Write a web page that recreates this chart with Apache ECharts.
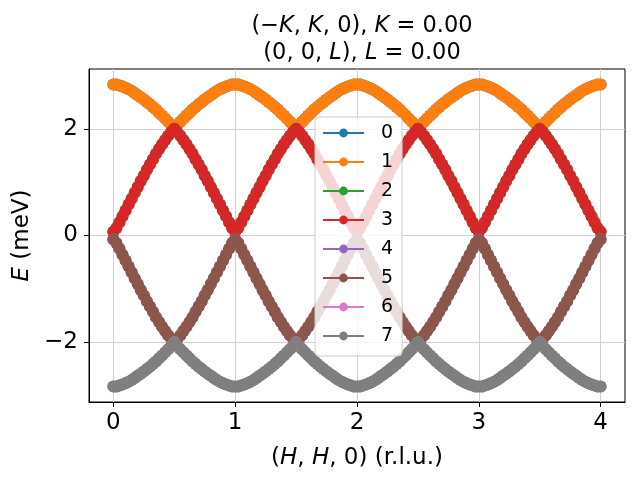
<!DOCTYPE html>
<html>
<head>
<meta charset="utf-8">
<script src="https://cdn.jsdelivr.net/npm/echarts@6/dist/echarts.min.js"></script>
<style>
  html, body { margin: 0; padding: 0; background: #fff; }
  #chart { width: 640px; height: 480px; }
</style>
</head>
<body>
<div id="chart"></div>
<script>
// H along (H, H, 0), one row per unit of H
var hVals = [
  0, 0.025, 0.05, 0.075, 0.1, 0.125, 0.15, 0.175, 0.2, 0.225, 0.25, 0.275, 0.3, 0.325, 0.35, 0.375, 0.4, 0.425, 0.45, 0.475, 0.5, 0.525, 0.55, 0.575, 0.6, 0.625, 0.65, 0.675, 0.7, 0.725, 0.75, 0.775, 0.8, 0.825, 0.85, 0.875, 0.9, 0.925, 0.95, 0.975, 1,
  1.025, 1.05, 1.075, 1.1, 1.125, 1.15, 1.175, 1.2, 1.225, 1.25, 1.275, 1.3, 1.325, 1.35, 1.375, 1.4, 1.425, 1.45, 1.475, 1.5, 1.525, 1.55, 1.575, 1.6, 1.625, 1.65, 1.675, 1.7, 1.725, 1.75, 1.775, 1.8, 1.825, 1.85, 1.875, 1.9, 1.925, 1.95, 1.975, 2,
  2.025, 2.05, 2.075, 2.1, 2.125, 2.15, 2.175, 2.2, 2.225, 2.25, 2.275, 2.3, 2.325, 2.35, 2.375, 2.4, 2.425, 2.45, 2.475, 2.5, 2.525, 2.55, 2.575, 2.6, 2.625, 2.65, 2.675, 2.7, 2.725, 2.75, 2.775, 2.8, 2.825, 2.85, 2.875, 2.9, 2.925, 2.95, 2.975, 3,
  3.025, 3.05, 3.075, 3.1, 3.125, 3.15, 3.175, 3.2, 3.225, 3.25, 3.275, 3.3, 3.325, 3.35, 3.375, 3.4, 3.425, 3.45, 3.475, 3.5, 3.525, 3.55, 3.575, 3.6, 3.625, 3.65, 3.675, 3.7, 3.725, 3.75, 3.775, 3.8, 3.825, 3.85, 3.875, 3.9, 3.925, 3.95, 3.975, 4
];

// upper band (modes 0, 1)
var eUpper = [
  2.83, 2.83, 2.81, 2.79, 2.77, 2.74, 2.71, 2.67, 2.63, 2.59, 2.55, 2.50, 2.46, 2.41, 2.36, 2.30, 2.25, 2.19, 2.13, 2.07, 2.00, 2.07, 2.13, 2.19, 2.25, 2.30, 2.36, 2.41, 2.46, 2.50, 2.55, 2.59, 2.63, 2.67, 2.71, 2.74, 2.77, 2.79, 2.81, 2.83, 2.83,
  2.83, 2.81, 2.79, 2.77, 2.74, 2.71, 2.67, 2.63, 2.59, 2.55, 2.50, 2.46, 2.41, 2.36, 2.30, 2.25, 2.19, 2.13, 2.07, 2.00, 2.07, 2.13, 2.19, 2.25, 2.30, 2.36, 2.41, 2.46, 2.50, 2.55, 2.59, 2.63, 2.67, 2.71, 2.74, 2.77, 2.79, 2.81, 2.83, 2.83,
  2.83, 2.81, 2.79, 2.77, 2.74, 2.71, 2.67, 2.63, 2.59, 2.55, 2.50, 2.46, 2.41, 2.36, 2.30, 2.25, 2.19, 2.13, 2.07, 2.00, 2.07, 2.13, 2.19, 2.25, 2.30, 2.36, 2.41, 2.46, 2.50, 2.55, 2.59, 2.63, 2.67, 2.71, 2.74, 2.77, 2.79, 2.81, 2.83, 2.83,
  2.83, 2.81, 2.79, 2.77, 2.74, 2.71, 2.67, 2.63, 2.59, 2.55, 2.50, 2.46, 2.41, 2.36, 2.30, 2.25, 2.19, 2.13, 2.07, 2.00, 2.07, 2.13, 2.19, 2.25, 2.30, 2.36, 2.41, 2.46, 2.50, 2.55, 2.59, 2.63, 2.67, 2.71, 2.74, 2.77, 2.79, 2.81, 2.83, 2.83
];

// inner positive band (modes 2, 3)
var eInner = [
  0.07, 0.14, 0.25, 0.36, 0.47, 0.58, 0.69, 0.80, 0.91, 1.02, 1.12, 1.23, 1.33, 1.43, 1.53, 1.62, 1.71, 1.79, 1.87, 1.94, 2.00, 1.94, 1.87, 1.79, 1.71, 1.62, 1.53, 1.43, 1.33, 1.23, 1.12, 1.02, 0.91, 0.80, 0.69, 0.58, 0.47, 0.36, 0.25, 0.14, 0.07,
  0.14, 0.25, 0.36, 0.47, 0.58, 0.69, 0.80, 0.91, 1.02, 1.12, 1.23, 1.33, 1.43, 1.53, 1.62, 1.71, 1.79, 1.87, 1.94, 2.00, 1.94, 1.87, 1.79, 1.71, 1.62, 1.53, 1.43, 1.33, 1.23, 1.12, 1.02, 0.91, 0.80, 0.69, 0.58, 0.47, 0.36, 0.25, 0.14, 0.07,
  0.14, 0.25, 0.36, 0.47, 0.58, 0.69, 0.80, 0.91, 1.02, 1.12, 1.23, 1.33, 1.43, 1.53, 1.62, 1.71, 1.79, 1.87, 1.94, 2.00, 1.94, 1.87, 1.79, 1.71, 1.62, 1.53, 1.43, 1.33, 1.23, 1.12, 1.02, 0.91, 0.80, 0.69, 0.58, 0.47, 0.36, 0.25, 0.14, 0.07,
  0.14, 0.25, 0.36, 0.47, 0.58, 0.69, 0.80, 0.91, 1.02, 1.12, 1.23, 1.33, 1.43, 1.53, 1.62, 1.71, 1.79, 1.87, 1.94, 2.00, 1.94, 1.87, 1.79, 1.71, 1.62, 1.53, 1.43, 1.33, 1.23, 1.12, 1.02, 0.91, 0.80, 0.69, 0.58, 0.47, 0.36, 0.25, 0.14, 0.07
];

// inner negative band (modes 4, 5)
var eInnerNeg = [
  -0.07, -0.14, -0.25, -0.36, -0.47, -0.58, -0.69, -0.80, -0.91, -1.02, -1.12, -1.23, -1.33, -1.43, -1.53, -1.62, -1.71, -1.79, -1.87, -1.94, -2.00, -1.94, -1.87, -1.79, -1.71, -1.62, -1.53, -1.43, -1.33, -1.23, -1.12, -1.02, -0.91, -0.80, -0.69, -0.58, -0.47, -0.36, -0.25, -0.14, -0.07,
  -0.14, -0.25, -0.36, -0.47, -0.58, -0.69, -0.80, -0.91, -1.02, -1.12, -1.23, -1.33, -1.43, -1.53, -1.62, -1.71, -1.79, -1.87, -1.94, -2.00, -1.94, -1.87, -1.79, -1.71, -1.62, -1.53, -1.43, -1.33, -1.23, -1.12, -1.02, -0.91, -0.80, -0.69, -0.58, -0.47, -0.36, -0.25, -0.14, -0.07,
  -0.14, -0.25, -0.36, -0.47, -0.58, -0.69, -0.80, -0.91, -1.02, -1.12, -1.23, -1.33, -1.43, -1.53, -1.62, -1.71, -1.79, -1.87, -1.94, -2.00, -1.94, -1.87, -1.79, -1.71, -1.62, -1.53, -1.43, -1.33, -1.23, -1.12, -1.02, -0.91, -0.80, -0.69, -0.58, -0.47, -0.36, -0.25, -0.14, -0.07,
  -0.14, -0.25, -0.36, -0.47, -0.58, -0.69, -0.80, -0.91, -1.02, -1.12, -1.23, -1.33, -1.43, -1.53, -1.62, -1.71, -1.79, -1.87, -1.94, -2.00, -1.94, -1.87, -1.79, -1.71, -1.62, -1.53, -1.43, -1.33, -1.23, -1.12, -1.02, -0.91, -0.80, -0.69, -0.58, -0.47, -0.36, -0.25, -0.14, -0.07
];

// lower band (modes 6, 7)
var eLower = [
  -2.83, -2.83, -2.81, -2.79, -2.77, -2.74, -2.71, -2.67, -2.63, -2.59, -2.55, -2.50, -2.46, -2.41, -2.36, -2.30, -2.25, -2.19, -2.13, -2.07, -2.00, -2.07, -2.13, -2.19, -2.25, -2.30, -2.36, -2.41, -2.46, -2.50, -2.55, -2.59, -2.63, -2.67, -2.71, -2.74, -2.77, -2.79, -2.81, -2.83, -2.83,
  -2.83, -2.81, -2.79, -2.77, -2.74, -2.71, -2.67, -2.63, -2.59, -2.55, -2.50, -2.46, -2.41, -2.36, -2.30, -2.25, -2.19, -2.13, -2.07, -2.00, -2.07, -2.13, -2.19, -2.25, -2.30, -2.36, -2.41, -2.46, -2.50, -2.55, -2.59, -2.63, -2.67, -2.71, -2.74, -2.77, -2.79, -2.81, -2.83, -2.83,
  -2.83, -2.81, -2.79, -2.77, -2.74, -2.71, -2.67, -2.63, -2.59, -2.55, -2.50, -2.46, -2.41, -2.36, -2.30, -2.25, -2.19, -2.13, -2.07, -2.00, -2.07, -2.13, -2.19, -2.25, -2.30, -2.36, -2.41, -2.46, -2.50, -2.55, -2.59, -2.63, -2.67, -2.71, -2.74, -2.77, -2.79, -2.81, -2.83, -2.83,
  -2.83, -2.81, -2.79, -2.77, -2.74, -2.71, -2.67, -2.63, -2.59, -2.55, -2.50, -2.46, -2.41, -2.36, -2.30, -2.25, -2.19, -2.13, -2.07, -2.00, -2.07, -2.13, -2.19, -2.25, -2.30, -2.36, -2.41, -2.46, -2.50, -2.55, -2.59, -2.63, -2.67, -2.71, -2.74, -2.77, -2.79, -2.81, -2.83, -2.83
];

var modeNames = ['0', '1', '2', '3', '4', '5', '6', '7'];
var modeData = [eUpper, eUpper, eInner, eInner, eInnerNeg, eInnerNeg, eLower, eLower];
var xTicks = [0, 1, 2, 3, 4];
var yTicks = [-2, 0, 2];

var colors = ['#1f77b4', '#ff7f0e', '#2ca02c', '#d62728', '#9467bd', '#8c564b', '#e377c2', '#7f7f7f'];
var font = 'DejaVu Sans';

function pairs(ys) {
  return hVals.map(function (h, i) { return [h, ys[i]]; });
}

var series = modeNames.map(function (name, i) {
  return {
    name: name,
    type: 'line',
    data: pairs(modeData[i]),
    symbol: 'circle',
    symbolSize: 12,
    showAllSymbol: true,
    lineStyle: {width: 1.5, color: colors[i]},
    itemStyle: {color: colors[i]},
    emphasis: {disabled: true}
  };
});

var chart = echarts.init(document.getElementById('chart'), null, {renderer: 'canvas'});
chart.setOption({
  animation: false,
  color: colors,
  title: {
    text: '(\u2212{i|K}, {i|K}, 0), {i|K} = 0.00\n(0, 0, {i|L}), {i|L} = 0.00',
    left: 357,
    textAlign: 'center',
    top: 8,
    textStyle: {
      fontFamily: font, fontSize: 22.5, fontWeight: 'normal', color: '#000', lineHeight: 27,
      rich: {i: {fontFamily: font, fontSize: 22.5, fontStyle: 'italic', color: '#000', lineHeight: 27}}
    }
  },
  grid: {left: 89, right: 15, top: 69, bottom: 78, show: true, borderColor: '#000', borderWidth: 1, backgroundColor: 'transparent'},
  legend: {
    orient: 'vertical',
    left: 315,
    top: 117,
    padding: [6, 9, 10, 7],
    itemWidth: 41,
    itemHeight: 11,
    itemGap: 9,
    backgroundColor: 'rgba(255,255,255,0.8)',
    borderColor: '#cccccc',
    borderWidth: 1,
    borderRadius: 4,
    data: modeNames,
    textStyle: {fontFamily: font, fontSize: 19, color: '#000', lineHeight: 20, padding: [0, 0, 0, 12]}
  },
  xAxis: {
    type: 'value',
    min: -0.2,
    max: 4.2,
    name: '({i|H}, {i|H}, 0) (r.l.u.)',
    nameLocation: 'middle',
    nameGap: 45,
    nameTextStyle: {
      fontFamily: font, fontSize: 23, color: '#000',
      rich: {i: {fontFamily: font, fontSize: 23, fontStyle: 'italic', color: '#000'}}
    },
    axisLine: {show: true, onZero: false, lineStyle: {color: '#000', width: 1}},
    axisTick: {show: true, length: 5, customValues: xTicks, lineStyle: {color: '#000'}},
    axisLabel: {customValues: xTicks, margin: 10, fontFamily: font, fontSize: 23, color: '#000'},
    splitLine: {show: true, lineStyle: {color: '#d0d0d0', width: 1}}
  },
  yAxis: {
    type: 'value',
    min: -3.12,
    max: 3.12,
    name: '{i|E} (meV)',
    nameLocation: 'middle',
    nameGap: 53,
    nameTextStyle: {
      fontFamily: font, fontSize: 23, color: '#000',
      rich: {i: {fontFamily: font, fontSize: 23, fontStyle: 'italic', color: '#000'}}
    },
    axisLine: {show: true, onZero: false, lineStyle: {color: '#000', width: 1}},
    axisTick: {show: true, length: 5, customValues: yTicks, lineStyle: {color: '#000'}},
    axisLabel: {
      customValues: yTicks, margin: 11, fontFamily: font, fontSize: 23, color: '#000',
      formatter: function (v) { return v < 0 ? '\u2212' + Math.abs(v) : String(v); }
    },
    splitLine: {show: true, lineStyle: {color: '#d0d0d0', width: 1}}
  },
  series: series
});
</script>
</body>
</html>
